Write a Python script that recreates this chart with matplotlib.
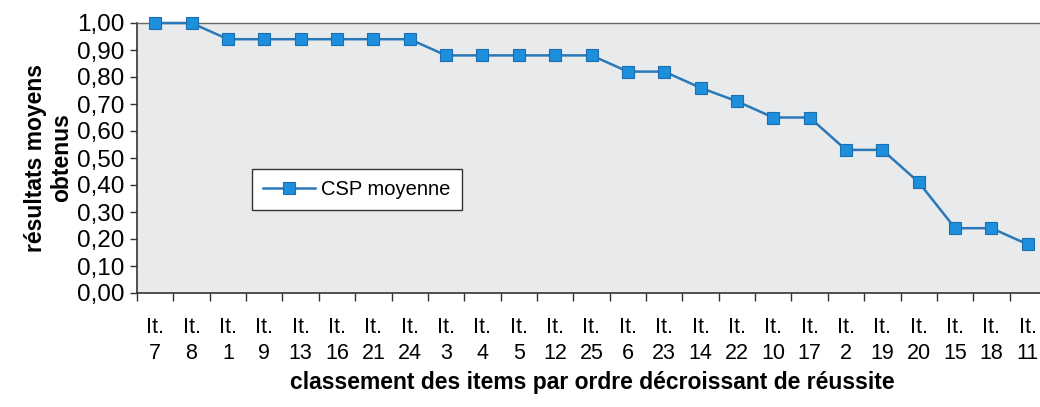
import matplotlib
matplotlib.use("Agg")
import matplotlib.pyplot as plt
from matplotlib.ticker import FixedLocator, NullFormatter, FuncFormatter

plt.rcParams['font.family'] = ['Liberation Sans', 'DejaVu Sans']

# Items ranked by decreasing success rate
items = ["7", "8", "1", "9", "13", "16", "21", "24", "3", "4", "5", "12", "25",
         "6", "23", "14", "22", "10", "17", "2", "19", "20", "15", "18", "11"]
csp_moyenne = [1.00, 1.00, 0.94, 0.94, 0.94, 0.94, 0.94, 0.94, 0.88, 0.88, 0.88, 0.88, 0.88,
               0.82, 0.82, 0.76, 0.71, 0.65, 0.65, 0.53, 0.53, 0.41, 0.24, 0.24, 0.18]
series_name = "CSP moyenne"
y_ticks = [0.0, 0.1, 0.2, 0.3, 0.4, 0.5, 0.6, 0.7, 0.8, 0.9, 1.0]

fig = plt.figure(figsize=(10.40, 4.07), dpi=100)
ax = fig.add_axes([137 / 1040, 1 - 293 / 407, (1046 - 137) / 1040, 270 / 407])
ax.set_facecolor("#e8eaec")

x = list(range(len(items)))
line, = ax.plot(x, csp_moyenne, color="#2a78b8", linewidth=1.8,
                marker="s", markersize=9, markerfacecolor="#1e8fdc",
                markeredgecolor="#1a6fb0", markeredgewidth=0.8,
                label=series_name, zorder=3, clip_on=False)

ax.set_xlim(-0.5, len(items) - 0.5)
ax.set_ylim(0, 1.0)

# Category labels centred on points, tick marks between categories
ax.set_xticks(x)
ax.set_xticklabels([f"It.\n{s}" for s in items], fontsize=15.5, linespacing=1.35)
ax.tick_params(axis="x", which="major", length=0, pad=17)
ax.xaxis.set_minor_locator(FixedLocator([i - 0.5 for i in range(len(items) + 1)]))
ax.xaxis.set_minor_formatter(NullFormatter())
ax.tick_params(axis="x", which="minor", length=6, width=1, color="#333333", direction="out")

ax.set_yticks(y_ticks)
ax.yaxis.set_major_formatter(FuncFormatter(lambda v, p: f"{v:.2f}".replace(".", ",")))
ax.tick_params(axis="y", length=5, width=1, color="#333333", labelsize=17.5, pad=4)

for side in ("left", "bottom"):
    ax.spines[side].set_color("#333333")
    ax.spines[side].set_linewidth(1.2)
ax.spines["right"].set_visible(False)
ax.spines["top"].set_color("#666666")
ax.spines["top"].set_linewidth(1.0)
ax.spines["top"].set_linestyle((0, (2, 1)))

ax.set_ylabel("résultats moyens\nobtenus", fontsize=16.5, fontweight="bold",
              linespacing=1.15, labelpad=3)
fig.text(592 / 1040, 1 - 383 / 407, "classement des items par ordre décroissant de réussite",
         fontsize=16.5, fontweight="bold", ha="center", va="center")

leg = ax.legend(handles=[line], loc="upper left", bbox_to_anchor=(0.1265, 0.459),
                borderaxespad=0, fontsize=14.5, frameon=True, fancybox=False,
                edgecolor="#333333", facecolor="white", framealpha=1,
                handlelength=2.6, borderpad=0.55, handletextpad=0.3)
leg.get_frame().set_linewidth(1.0)

fig.savefig("out.png", dpi=100)
